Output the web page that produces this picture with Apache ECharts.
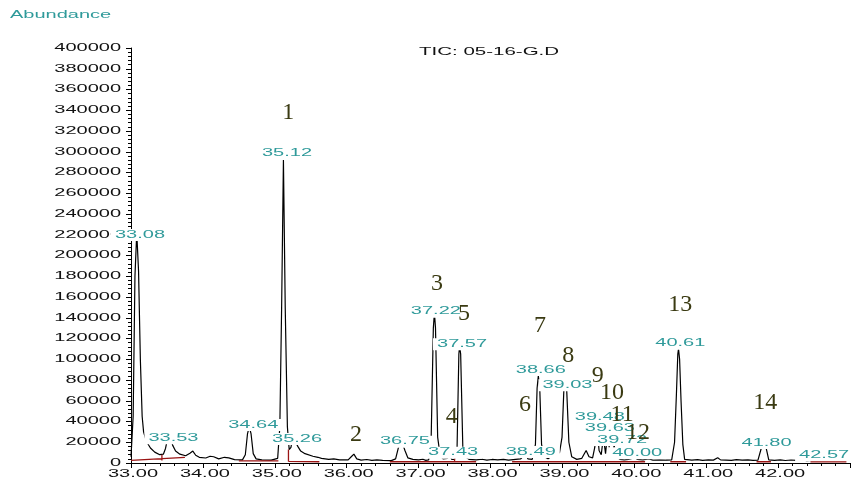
<!DOCTYPE html>
<html><head><meta charset="utf-8">
<script src="https://cdn.jsdelivr.net/npm/echarts@6/dist/echarts.min.js"></script>
<style>html,body{margin:0;padding:0;background:#fff}#c{width:852px;height:480px}</style>
</head><body><div id="c"></div>
<script>
// ---- data ----
const traceTime = [33.00,33.03,33.055,33.08,33.105,33.13,33.155,33.175,33.20,33.23,33.27,33.33,33.40,33.45,33.48,33.51,33.53,33.55,33.58,33.62,33.68,33.76,33.82,33.86,33.90,33.95,34.04,34.10,34.15,34.22,34.30,34.36,34.44,34.55,34.59,34.62,34.645,34.67,34.70,34.74,34.82,34.95,35.04,35.07,35.095,35.12,35.145,35.175,35.20,35.225,35.25,35.27,35.29,35.32,35.36,35.42,35.53,35.60,35.65,35.75,35.82,35.90,36.02,36.07,36.10,36.14,36.20,36.28,36.35,36.42,36.50,36.62,36.68,36.72,36.75,36.78,36.81,36.85,36.92,37.00,37.06,37.10,37.14,37.175,37.205,37.22,37.235,37.265,37.30,37.34,37.40,37.43,37.46,37.50,37.535,37.56,37.57,37.585,37.615,37.65,37.70,37.80,37.88,37.95,38.02,38.10,38.18,38.25,38.35,38.42,38.46,38.49,38.52,38.58,38.625,38.648,38.665,38.685,38.71,38.75,38.80,38.86,38.90,38.93,38.96,38.995,39.02,39.04,39.06,39.09,39.13,39.20,39.27,39.33,39.37,39.42,39.45,39.48,39.51,39.54,39.57,39.60,39.63,39.66,39.69,39.72,39.75,39.80,39.86,39.92,39.97,40.00,40.04,40.12,40.20,40.26,40.35,40.45,40.52,40.56,40.585,40.605,40.615,40.63,40.65,40.675,40.70,40.80,40.88,40.95,41.03,41.10,41.16,41.20,41.35,41.42,41.50,41.58,41.65,41.72,41.765,41.80,41.835,41.87,41.95,42.03,42.10,42.18,42.25,42.33,42.40,42.52,42.57,42.62,42.70,42.75,42.85,42.92,43.00];
const traceAbund = [6000,45000,180000,222000,185000,100000,45000,30000,24000,19000,14500,10500,8000,8500,14000,24000,27000,24000,17000,11500,8500,7000,9500,11500,7500,5500,4800,6500,6000,4000,5500,5000,3200,3000,8000,28000,35000,28000,9000,4000,3000,2800,4500,35000,150000,292000,150000,35000,13000,15000,26000,27000,20000,16000,11500,9000,6500,5500,4500,3500,3900,3000,3000,6500,8500,4000,2800,3400,2500,3000,2500,2300,4000,15000,19000,18000,12000,5000,3500,3000,3600,2500,3000,25000,130000,145000,130000,25000,7000,4000,4500,8000,3500,3500,15000,105000,113000,105000,15000,6000,3500,3000,3600,2800,3400,3000,3500,2800,3500,4000,7000,9000,4000,3500,18000,72000,84000,72000,18000,6000,4000,7000,11000,9000,10000,25000,70000,77000,70000,20000,6000,3500,4500,12000,6000,5000,15000,36000,12000,8000,25000,9000,30000,9000,7000,17000,6000,3500,3000,3500,4500,6000,3500,3000,4000,2800,3000,2800,3000,20000,65000,105000,110000,100000,60000,18000,3500,2800,3300,2600,3100,2800,5000,3000,2600,3200,2700,3100,2600,2800,14000,18000,14000,3000,2500,3000,2400,2900,2600,3000,2300,2800,5000,2500,3000,2400,3000,4500,3000];

// integration baselines: [t1, v1, t2, v2]
const baselineSegments = [[33.00,2500,33.75,5500],[34.50,2000,35.05,2000],[35.19,1500,35.62,1200],[36.60,1200,37.80,1200],[38.30,1200,40.15,1200],[40.50,1200,40.72,1200],[41.70,1200,41.90,1200],[42.45,1000,42.95,1000],[33.43,2500,33.43,8000],[35.19,1500,35.19,13000],[37.50,1200,37.50,4500]];

const xTicks = [33,34,35,36,37,38,39,40,41,42];
const xTickLabels = ['33.00','34.00','35.00','36.00','37.00','38.00','39.00','40.00','41.00','42.00'];
const yTicks = [0,20000,40000,60000,80000,100000,120000,140000,160000,180000,200000,220000,240000,260000,280000,300000,320000,340000,360000,380000,400000];
const yTickLabels = ['0','20000','40000','60000','80000','100000','120000','140000','160000','180000','200000','220000','240000','260000','280000','300000','320000','340000','360000','380000','400000'];

const peakLabelText = ['33.08','33.53','34.64','35.12','35.26','36.75','37.22','37.43','37.57','38.49','38.66','39.03','39.48','39.63','39.72','40.00','40.61','41.80','42.57'];
const peakLabelTime = [33.125,33.59,34.70,35.17,35.31,36.81,37.24,37.48,37.604,38.56,38.70,39.07,39.52,39.66,39.83,40.04,40.64,41.84,42.64];
const peakLabelAbund = [219800,23800,36600,299000,23100,20500,145800,9900,114400,10600,89600,75000,44300,33700,22200,9400,115000,19300,7700];

const peakNumText = ['1','2','3','4','5','6','7','8','9','10','11','12','13','14'];
const peakNumTime = [35.188,36.13,37.256,37.46,37.63,38.48,38.69,39.08,39.49,39.69,39.83,40.05,40.64,41.82];
const peakNumAbund = [337700,27000,172500,44600,144000,55900,132000,103000,83900,67500,46300,28900,152300,57800];

// ---- build ----
const tracePts = traceTime.map((t, i) => [t, traceAbund[i]]);
const basePts = [];
baselineSegments.forEach(s => { basePts.push([s[0], s[1]]); basePts.push([s[2], s[3]]); basePts.push([s[2], null]); });

const SANS = '10px "Liberation Sans", Arial, sans-serif';
const TEAL = '#2f9a9a';

function textSeries(name, data, texts, opt) {
  return {
    type: 'custom', name: name, data: data, clip: false, silent: true, z: opt.z || 10,
    renderItem: function (params, api) {
      const p = api.coord([api.value(0), api.value(1)]);
      const style = {
        text: texts[params.dataIndex], fill: opt.color, font: opt.font,
        align: opt.align || 'center', verticalAlign: 'middle'
      };
      if (opt.bg) { style.backgroundColor = opt.bg; style.padding = [1, 2, 1, 2]; }
      return { type: 'text', x: p[0] + (opt.dx || 0), y: p[1] + (opt.dy || 0), scaleX: opt.sx || 1, style: style };
    }
  };
}

const chart = echarts.init(document.getElementById('c'), null, { renderer: 'canvas' });
chart.setOption({
  animation: false,
  backgroundColor: '#fff',
  grid: { left: 131, right: 2, top: 48, bottom: 17, containLabel: false, outerBoundsMode: 'none' },
  xAxis: {
    type: 'value', min: 33, max: 43, interval: 1,
    axisLine: { show: true, lineStyle: { color: '#000', width: 1 } },
    axisTick: { show: true, length: 5, lineStyle: { color: '#000' } },
    minorTick: { show: true, splitNumber: 5, length: 3, lineStyle: { color: '#000' } },
    axisLabel: { show: false },
    splitLine: { show: false }
  },
  yAxis: {
    type: 'value', min: 0, max: 400000, interval: 20000,
    axisLine: { show: true, lineStyle: { color: '#000', width: 1 } },
    axisTick: { show: true, length: 5, lineStyle: { color: '#000' } },
    minorTick: { show: true, splitNumber: 5, length: 3, lineStyle: { color: '#000' } },
    axisLabel: { show: false },
    splitLine: { show: false }
  },
  graphic: [
    { type: 'text', x: 10, y: 15, scaleX: 2, style: { text: 'Abundance', fill: TEAL, font: SANS, align: 'left', verticalAlign: 'middle' } },
    { type: 'text', x: 419, y: 52, scaleX: 2.05, style: { text: 'TIC: 05-16-G.D', fill: '#111', font: SANS, align: 'left', verticalAlign: 'middle' } }
  ],
  series: [
    {
      type: 'line', name: 'TIC', data: tracePts, symbol: 'none', smooth: false, z: 3,
      lineStyle: { color: '#000', width: 1.2 }, silent: true
    },
    {
      type: 'line', name: 'baseline', data: basePts, symbol: 'none', connectNulls: false, z: 4,
      lineStyle: { color: '#9a1414', width: 1.3 }, silent: true
    },
    textSeries('yLabels', yTicks.map(v => [33, v]), yTickLabels,
      { color: '#111', font: SANS, sx: 2, dx: -10, align: 'right', z: 9 }),
    textSeries('xLabels', xTicks.map(t => [t, 0]), xTickLabels,
      { color: '#111', font: SANS, sx: 2, dx: 2, dy: 11, z: 9 }),
    textSeries('peakLabels', peakLabelTime.map((t, i) => [t, peakLabelAbund[i]]), peakLabelText,
      { color: TEAL, font: SANS, bg: '#fff', sx: 2, z: 12 }),
    textSeries('peakNumbers', peakNumTime.map((t, i) => [t, peakNumAbund[i]]), peakNumText,
      { color: '#3a3a12', font: '24px "Liberation Serif", "Times New Roman", serif', z: 13 })
  ]
});
</script></body></html>
